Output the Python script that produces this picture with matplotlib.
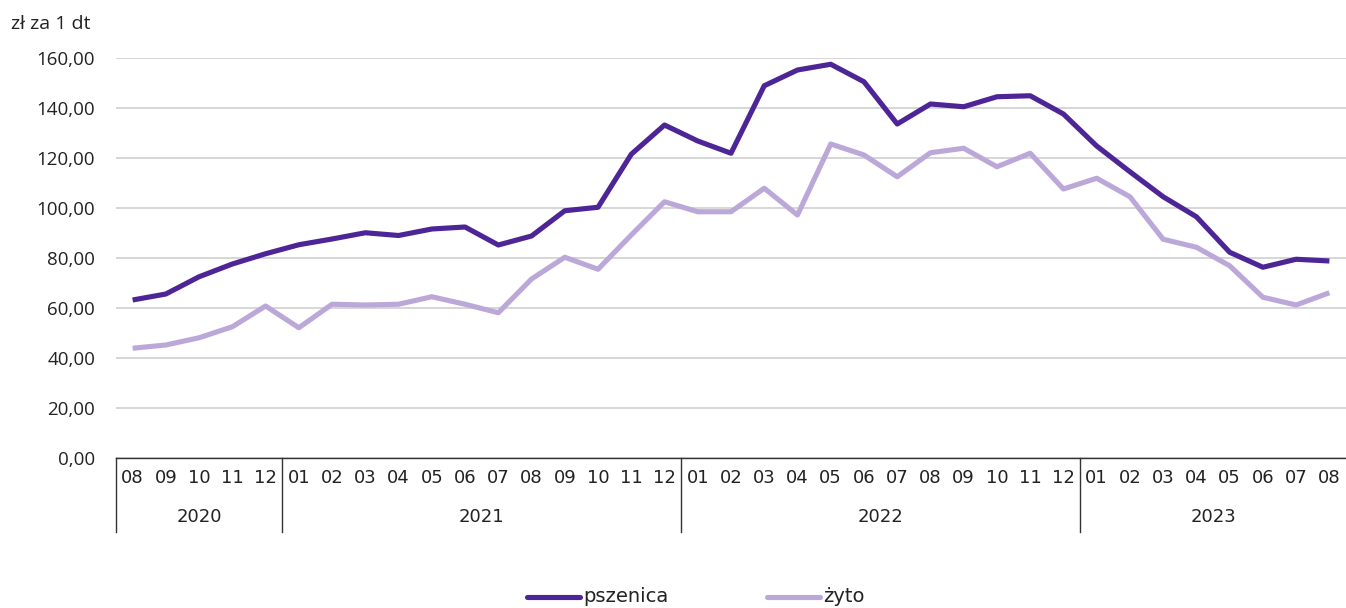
import numpy as np
import matplotlib
matplotlib.use("Agg")
import matplotlib.pyplot as plt
from matplotlib.lines import Line2D

# monthly prices, zł per 1 dt, 2020-08 .. 2023-08
months = ["08", "09", "10", "11", "12",
          "01", "02", "03", "04", "05", "06", "07", "08", "09", "10", "11", "12",
          "01", "02", "03", "04", "05", "06", "07", "08", "09", "10", "11", "12",
          "01", "02", "03", "04", "05", "06", "07", "08"]
years = ["2020", "2021", "2022", "2023"]
year_counts = [5, 12, 12, 8]

pszenica = [63.2, 65.6, 72.5, 77.6, 81.7, 85.3, 87.6, 90.1, 89.0, 91.6, 92.4, 85.2,
            88.8, 98.9, 100.3, 121.5, 133.2, 126.8, 121.9, 148.9, 155.2, 157.5, 150.5,
            133.6, 141.6, 140.5, 144.5, 144.9, 137.6, 124.8, 114.5, 104.5, 96.5, 82.3,
            76.3, 79.5, 78.8]
zyto = [43.9, 45.2, 48.1, 52.5, 60.8, 52.1, 61.5, 61.2, 61.5, 64.5, 61.5, 58.1,
        71.6, 80.3, 75.5, 89.2, 102.5, 98.5, 98.5, 107.9, 97.2, 125.6, 121.2, 112.5,
        122.1, 123.9, 116.5, 121.9, 107.6, 111.9, 104.5, 87.5, 84.3, 76.9, 64.3,
        61.2, 66.1]

c_psz = "#4d2596"
c_zyto = "#bba8d9"
narrow = ["Liberation Sans Narrow", "DejaVu Sans"]
plt.rcParams['font.family'] = ["Open Sans", "DejaVu Sans"]

fig = plt.figure(figsize=(13.46, 6.08), dpi=100)
W, H = 1346, 608
ax = fig.add_axes([116 / W, 150 / H, 1230 / W, 400 / H])

x = np.arange(len(months))
ax.plot(x, pszenica, color=c_psz, lw=3.7, solid_joinstyle='round', solid_capstyle='butt', zorder=3)
ax.plot(x, zyto, color=c_zyto, lw=3.7, solid_joinstyle='round', solid_capstyle='butt', zorder=2)

ax.set_xlim(-0.5, len(months) - 0.5)
ax.set_ylim(0, 160)
ax.set_yticks(np.arange(0, 161, 20))
ax.set_yticklabels([f"{v:.2f}".replace(".", ",") for v in np.arange(0, 161, 20)],
                   fontsize=13.5, color="#222222")
ax.tick_params(axis='y', length=0, pad=15)
ax.grid(axis='y', color="#cccccc", lw=1.1)
ax.set_axisbelow(True)
for s in ['top', 'right', 'left']:
    ax.spines[s].set_visible(False)
ax.spines['bottom'].set_color("#333333")
ax.spines['bottom'].set_linewidth(1.0)
ax.set_xticks([])

# month labels
trans = ax.get_xaxis_transform()
for i, m in enumerate(months):
    ax.text(i, -0.05, m, transform=trans, ha='center', va='center',
            fontsize=13, family=narrow, color="#222222")

# year labels and separators
start = 0
for yr, n in zip(years, year_counts):
    ax.text(start + (n - 1) / 2, -0.148, yr, transform=trans, ha='center', va='center',
            fontsize=13, family=narrow, color="#222222")
    ax.plot([start - 0.5, start - 0.5], [0, -0.185], transform=trans, color="#333333",
            lw=1.0, clip_on=False)
    start += n

fig.text(11 / W, 1 - 24 / H, "zł za 1 dt", fontsize=14, va='center', ha='left', color="#222222")

# legend
ly = 1 - 597 / H
fig.add_artist(Line2D([527 / W, 580 / W], [ly, ly], color=c_psz, lw=3.7, solid_capstyle='round'))
fig.text(583 / W, ly, "pszenica", fontsize=14, va='center', ha='left', family=narrow, color="#222222")
fig.add_artist(Line2D([767 / W, 820 / W], [ly, ly], color=c_zyto, lw=3.7, solid_capstyle='round'))
fig.text(823 / W, ly, "żyto", fontsize=14, va='center', ha='left', family=narrow, color="#222222")

fig.savefig("out.png", dpi=100)
